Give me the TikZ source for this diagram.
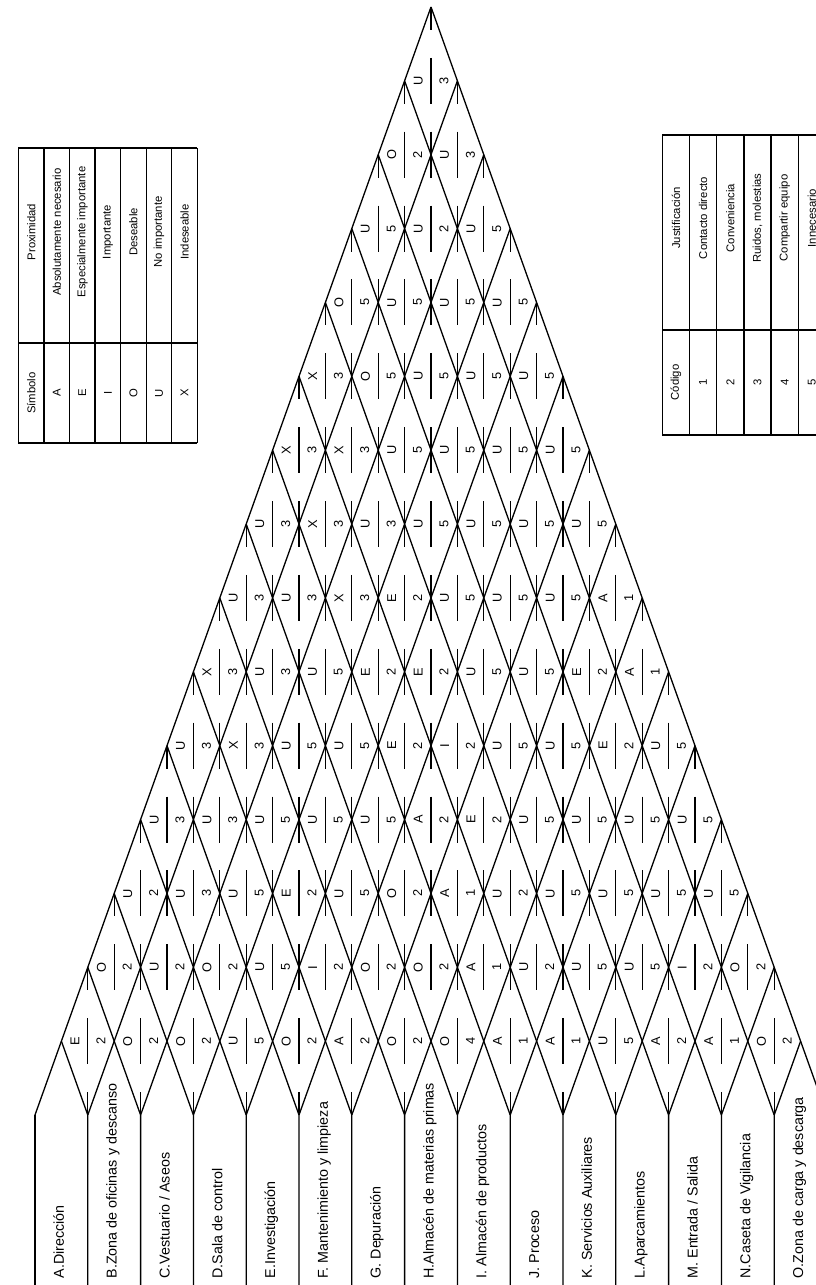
\documentclass[tikz,border=0pt]{standalone}
\usepackage{fontspec}
\setmainfont{Liberation Sans}
\begin{document}
\begin{tikzpicture}[x=1pt,y=-1pt,line width=1.3pt,
  sym/.style={rotate=90,inner sep=0pt,font=\fontsize{12.8}{14}\selectfont},
  dept/.style={rotate=90,anchor=base west,inner sep=0pt,font=\fontsize{14.3}{16}\selectfont},
  tbl/.style={rotate=90,inner sep=0pt,font=\fontsize{11.3}{13}\selectfont},
  tline/.style={line width=1.4pt}]
\clip (0,0) rectangle (816,1285);
% grid coordinates
\foreach \m in {0,...,30}{
  \foreach \L in {0,...,15}{
    \coordinate (g-\m-\L) at ({35+26.4*\m},{1115-73.87*\L});
  }
}
\foreach \k in {0,...,15}{
  \coordinate (b-\k) at ({35+52.8*\k},1285);
}
% department boundaries
\foreach \k in {0,...,15}{
  \pgfmathtruncatemacro\ma{2*\k}
  \draw (b-\k) -- (g-\ma-0);
}
% diagonal lines
\foreach \k in {0,...,14}{
  \pgfmathtruncatemacro\ma{2*\k}
  \pgfmathtruncatemacro\mb{15+\k}
  \pgfmathtruncatemacro\lb{15-\k}
  \draw (g-\ma-0) -- (g-\mb-\lb);
}
\foreach \k in {1,...,15}{
  \pgfmathtruncatemacro\ma{2*\k}
  \draw (g-\ma-0) -- (g-\k-\k);
}
% vertex ticks
\begin{scope}
\clip (g-0-0) -- (g-15-15) -- (g-30-0) -- cycle;
\foreach \L in {2,...,14}{
  \pgfmathtruncatemacro\mmax{30-\L}
  \pgfmathtruncatemacro\mnext{\L+2}
  \foreach \m in {\L,\mnext,...,\mmax}{
    \draw ([yshift=23pt]g-\m-\L) -- ([yshift=-23pt]g-\m-\L);
  }
}
\draw (g-15-15) -- ([yshift=-23pt]g-15-15);
\end{scope}
\foreach \k in {1,...,14}{
  \pgfmathtruncatemacro\ma{2*\k}
  \draw (g-\ma-0) -- ([yshift=23pt]g-\ma-0);
}
% diamonds
\foreach \d/\lst in {
  1/{E/2,O/2,O/2,U/5,O/2,A/2,O/2,O/4,A/1,A/1,U/5,A/2,A/1,O/2},
  2/{O/2,U/2,O/2,U/5,I/2,O/2,O/2,A/1,U/2,U/5,U/5,I/2,O/2},
  3/{U/2,U/3,U/5,E/2,U/5,O/2,A/1,U/2,U/5,U/5,U/5,U/5},
  4/{U/3,U/3,U/5,U/5,U/5,A/2,E/2,U/5,U/5,U/5,U/5},
  5/{U/3,X/3,U/5,U/5,E/2,I/2,U/5,U/5,E/2,U/5},
  6/{X/3,U/3,U/5,E/2,E/2,U/5,U/5,E/2,A/1},
  7/{U/3,U/3,X/3,E/2,U/5,U/5,U/5,A/1},
  8/{U/3,X/3,U/3,U/5,U/5,U/5,U/5},
  9/{X/3,X/3,U/5,U/5,U/5,U/5},
  10/{X/3,O/5,U/5,U/5,U/5},
  11/{O/5,U/5,U/5,U/5},
  12/{U/5,U/2,U/5},
  13/{O/2,U/3},
  14/{U/3}}{
  \foreach \s/\c [count=\n from 0] in \lst {
    \pgfmathtruncatemacro\m{2*\n+\d+1}
    \node[sym] (l-\d-\n) at ([xshift=-12.8pt]g-\m-\d) {\s};
    \node[sym] (c-\d-\n) at ([xshift=13pt]g-\m-\d) {\c};
    \draw ([yshift=23pt]g-\m-\d) -- ([yshift=-23pt]g-\m-\d);
  }
}
% department labels
\foreach \k/\t in {0/{A.Dirección},1/{B.Zona de oficinas y descanso},2/{C.Vestuario / Aseos},
  3/{D.Sala de control},4/{E.Investigación},5/{F. Mantenimiento y limpieza},6/{G. Depuración},
  7/{H.Almacén de materias primas},8/{I. Almacén de productos},9/{J. Proceso},
  10/{K. Servicios Auxiliares},11/{L.Aparcamientos},12/{M. Entrada / Salida},
  13/{N.Caseta de Vigilancia},14/{O.Zona de carga y descarga}}{
  \node[dept] (dep-\k) at ({35+52.8*\k+26.4+2.5},1279) {\t};
}
% left table
\foreach \k in {0,...,7}{
  \coordinate (lt-\k) at ({18.45+25.55*\k},148);
  \coordinate (lb-\k) at ({18.45+25.55*\k},443);
  \draw[tline] (lt-\k) -- (lb-\k);
}
\coordinate (ls-0) at (18.45,343);
\coordinate (ls-7) at (197.3,343);
\draw[tline] (lt-0) -- (lt-7);
\draw[tline] (ls-0) -- (ls-7);
\draw[tline] (lb-0) -- (lb-7);
\foreach \k/\a/\b in {0/{Símbolo}/{Proximidad},1/A/{Absolutamente necesario},2/E/{Especialmente importante},
  3/I/{Importante},4/O/{Deseable},5/U/{No importante},6/X/{Indeseable}}{
  \node[tbl] (lp-\k) at ({18.45+25.55*\k+12.78},232) {\b};
  \node[tbl] (ls-\k) at ({18.45+25.55*\k+12.78},393) {\a};
}
% right table
\foreach \k in {0,...,6}{
  \coordinate (rt-\k) at ({662.3+27.2*\k},135);
  \coordinate (rb-\k) at ({662.3+27.2*\k},435);
  \draw[tline] (rt-\k) -- (rb-\k);
}
\coordinate (rs-0) at (662.3,330);
\coordinate (rs-6) at (825.5,330);
\draw[tline] (rt-0) -- (rt-6);
\draw[tline] (rs-0) -- (rs-6);
\draw[tline] (rb-0) -- (rb-6);
\foreach \k/\a/\b in {0/{Código}/{Justificación},1/1/{Contacto directo},2/2/{Conveniencia},
  3/3/{Ruidos, molestias},4/4/{Compartir equipo},5/5/{Innecesario}}{
  \node[tbl] (rj-\k) at ({662.3+27.2*\k+13.6},218) {\b};
  \node[tbl] (rc-\k) at ({662.3+27.2*\k+13.6},382.5) {\a};
}
\end{tikzpicture}
\end{document}
